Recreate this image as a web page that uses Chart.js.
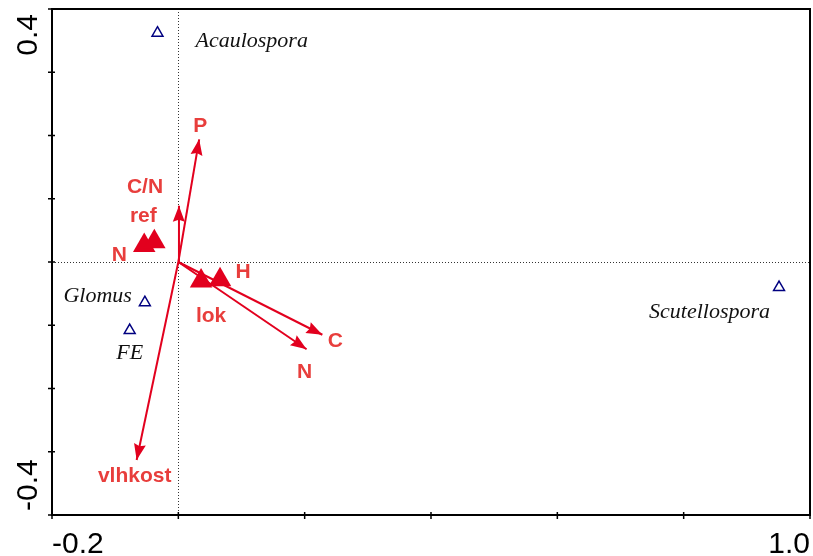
<!DOCTYPE html>
<html>
<head>
<meta charset="utf-8">
<script src="https://cdn.jsdelivr.net/npm/chart.js@4/dist/chart.umd.min.js"></script>
<style>
  html, body { margin: 0; padding: 0; background: #fff; }
  #wrap { width: 813px; height: 556px; position: relative; }
</style>
</head>
<body>
<div id="wrap"><canvas id="biplot"></canvas></div>
<script>
/*=============== ORDINATION BIPLOT ===============*/

// Species scores (open triangles)
const speciesNames = ['Acaulospora', 'Glomus', 'FE', 'Scutellospora'];
const speciesX = [-0.033, -0.053, -0.077, 0.951];
const speciesY = [0.362, -0.064, -0.108, -0.040];

// Quantitative environmental variables (arrows)
const envNames = ['P', 'C/N', 'vlhkost', 'C', 'N'];
const envX = [0.033, 0.001, -0.066, 0.228, 0.203];
const envY = [0.194, 0.089, -0.313, -0.115, -0.138];

// Nominal variable centroids (filled triangles)
const levelNames = ['N', 'ref', 'lok', 'H'];
const levelX = [-0.054, -0.038, 0.036, 0.066];
const levelY = [0.026, 0.032, -0.030, -0.028];

// Axis ticks and the labelled ends
const xTicks = [-0.2, 0, 0.2, 0.4, 0.6, 0.8, 1.0];
const yTicks = [-0.4, -0.3, -0.2, -0.1, 0, 0.1, 0.2, 0.3, 0.4];
const xTickLabels = ['-0.2', '1.0'];
const yTickLabels = ['0.4', '-0.4'];

// Label placement in pixels relative to the mark: [dx, dy(baseline), align]
const speciesLabelPos = [[38, 14, 'left'], [-13, 0, 'right'], [0, 29, 'center'], [-9, 31, 'right']];
const envLabelPos = [[1, -7, 'center'], [-34, -13, 'center'], [-2, 22, 'center'], [13, 12, 'center'], [-2, 29, 'center']];
const levelLabelPos = [[-25, 15, 'center'], [-11, -20, 'center'], [10, 41, 'center'], [23, -2, 'center']];

const RED = 'rgb(226, 0, 30)';
const RED_TEXT = 'rgb(232, 62, 60)';
const NAVY = 'rgb(0, 0, 128)';

const toPoints = (xs, ys) => xs.map((x, i) => ({ x: x, y: ys[i] }));

// Zero lines under the marks
const zeroLines = {
    id: 'zeroLines',
    beforeDatasetsDraw(chart) {
        const { ctx, chartArea: a, scales: { x, y } } = chart;
        const px = x.getPixelForValue(0);
        const py = y.getPixelForValue(0);
        ctx.save();
        ctx.strokeStyle = '#333';
        ctx.lineWidth = 1;
        ctx.setLineDash([1, 2]);
        ctx.beginPath();
        ctx.moveTo(Math.round(px) + 0.5, a.top);
        ctx.lineTo(Math.round(px) + 0.5, a.bottom);
        ctx.moveTo(a.left, Math.round(py) + 0.5);
        ctx.lineTo(a.right, Math.round(py) + 0.5);
        ctx.stroke();
        ctx.restore();
    }
};

// Arrowheads, frame, ticks and all labels
const decorations = {
    id: 'decorations',
    afterDatasetsDraw(chart) {
        const { ctx, chartArea: a, scales: { x, y } } = chart;
        const ox = x.getPixelForValue(0);
        const oy = y.getPixelForValue(0);

        // arrowheads
        ctx.save();
        ctx.fillStyle = RED;
        envNames.forEach((n, i) => {
            const tx = x.getPixelForValue(envX[i]);
            const ty = y.getPixelForValue(envY[i]);
            const ang = Math.atan2(ty - oy, tx - ox);
            const len = 16, half = 6;
            ctx.save();
            ctx.translate(tx, ty);
            ctx.rotate(ang);
            ctx.beginPath();
            ctx.moveTo(0, 0);
            ctx.lineTo(-len, -half);
            ctx.lineTo(-len + 2, 0);
            ctx.lineTo(-len, half);
            ctx.closePath();
            ctx.fill();
            ctx.restore();
        });
        ctx.restore();

        // frame
        ctx.save();
        ctx.strokeStyle = '#000';
        ctx.lineWidth = 2;
        ctx.strokeRect(a.left, a.top, a.right - a.left, a.bottom - a.top);

        // ticks crossing the left and bottom axes
        ctx.lineWidth = 1.5;
        ctx.beginPath();
        xTicks.forEach(v => {
            const px = x.getPixelForValue(v);
            ctx.moveTo(px, a.bottom - 3);
            ctx.lineTo(px, a.bottom + 4);
        });
        yTicks.forEach(v => {
            const py = y.getPixelForValue(v);
            ctx.moveTo(a.left - 4, py);
            ctx.lineTo(a.left + 3, py);
        });
        ctx.stroke();

        // axis end labels
        ctx.fillStyle = '#000';
        ctx.font = '30px "Liberation Sans", Arial, sans-serif';
        ctx.textBaseline = 'alphabetic';
        ctx.textAlign = 'left';
        ctx.fillText(xTickLabels[0], a.left, a.bottom + 38);
        ctx.textAlign = 'right';
        ctx.fillText(xTickLabels[1], a.right, a.bottom + 38);

        ctx.save();
        ctx.translate(a.left - 15, a.top + 5);
        ctx.rotate(-Math.PI / 2);
        ctx.textAlign = 'right';
        ctx.fillText(yTickLabels[0], 0, 0);
        ctx.restore();
        ctx.save();
        ctx.translate(a.left - 15, a.bottom - 4);
        ctx.rotate(-Math.PI / 2);
        ctx.textAlign = 'left';
        ctx.fillText(yTickLabels[1], 0, 0);
        ctx.restore();

        // species names
        ctx.font = 'italic 22px "Liberation Serif", "Times New Roman", serif';
        ctx.fillStyle = '#111';
        speciesNames.forEach((n, i) => {
            const p = speciesLabelPos[i];
            ctx.textAlign = p[2];
            ctx.fillText(n, x.getPixelForValue(speciesX[i]) + p[0], y.getPixelForValue(speciesY[i]) + p[1]);
        });

        // variable names
        ctx.font = 'bold 21px "Liberation Sans", Arial, sans-serif';
        ctx.fillStyle = RED_TEXT;
        envNames.forEach((n, i) => {
            const p = envLabelPos[i];
            ctx.textAlign = p[2];
            ctx.fillText(n, x.getPixelForValue(envX[i]) + p[0], y.getPixelForValue(envY[i]) + p[1]);
        });
        levelNames.forEach((n, i) => {
            const p = levelLabelPos[i];
            ctx.textAlign = p[2];
            ctx.fillText(n, x.getPixelForValue(levelX[i]) + p[0], y.getPixelForValue(levelY[i]) + p[1]);
        });
        ctx.restore();
    }
};

document.addEventListener('DOMContentLoaded', () => {
    const arrowSets = envNames.map((n, i) => ({
        label: n,
        type: 'line',
        data: [{ x: 0, y: 0 }, { x: envX[i], y: envY[i] }],
        borderColor: RED,
        borderWidth: 2,
        pointRadius: 0,
        fill: false,
        order: 2
    }));

    new Chart(document.getElementById('biplot'), {
        type: 'scatter',
        data: {
            datasets: [
                ...arrowSets,
                {
                    label: 'centroids',
                    data: toPoints(levelX, levelY),
                    pointStyle: 'triangle',
                    pointRadius: 13,
                    backgroundColor: RED,
                    borderColor: RED,
                    borderWidth: 0,
                    order: 1
                },
                {
                    label: 'species',
                    data: toPoints(speciesX, speciesY),
                    pointStyle: 'triangle',
                    pointRadius: 6.3,
                    backgroundColor: 'rgba(0,0,0,0)',
                    borderColor: NAVY,
                    borderWidth: 1.5,
                    order: 0
                }
            ]
        },
        options: {
            responsive: true,
            maintainAspectRatio: false,
            animation: false,
            layout: { autoPadding: false, padding: { left: 52, top: 9, right: 3, bottom: 41 } },
            plugins: {
                legend: { display: false },
                tooltip: { enabled: false }
            },
            scales: {
                x: { type: 'linear', min: -0.2, max: 1.0, display: false },
                y: { type: 'linear', min: -0.4, max: 0.4, display: false }
            }
        },
        plugins: [zeroLines, decorations]
    });
});
</script>
</body>
</html>
